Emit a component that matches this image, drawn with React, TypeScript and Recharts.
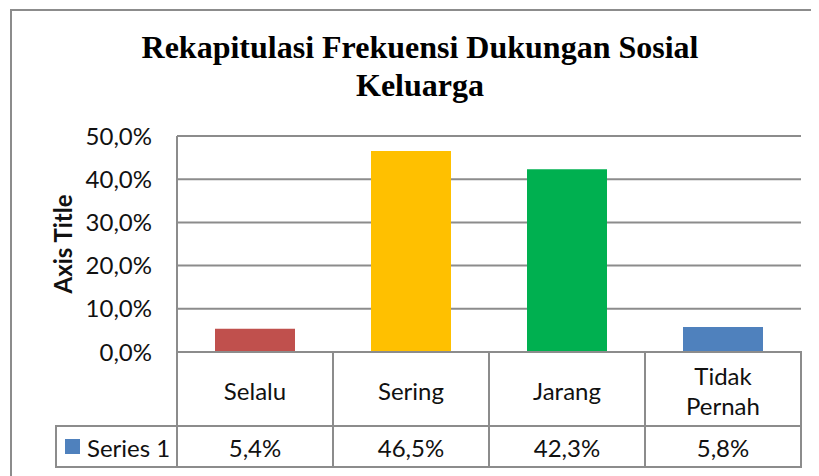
import React from 'react';
import { BarChart, Bar, XAxis, YAxis, CartesianGrid, Cell } from 'recharts';

const categories = ['Selalu', 'Sering', 'Jarang', 'Tidak Pernah'];
const values = [5.4, 46.5, 42.3, 5.8];
const barColors = ['#C0504D', '#FFC000', '#00B050', '#4F81BD'];
const yTicks = [0, 10, 20, 30, 40, 50];
const seriesName = 'Series 1';
const seriesColor = '#4F81BD';

const chartData = categories.map((name, i) => ({ name, value: values[i] }));

const LINE = '#8c8c8c';
const FONT = 'Lato, "Noto Sans", sans-serif';

const fmt = (v: number) => `${v.toFixed(1).replace('.', ',')}%`;

// x axis ticks draw the data table under the plot
const TableTick = (props: any) => {
    const { x, y, payload, index } = props;
    const half = payload && payload.offset ? payload.offset : 78;
    const left = x - half;
    const w = half * 2;
    const row1 = 74;
    const row2 = 41;
    const lines = String(payload.value).split(' ');
    return (
        <g>
            <rect x={left} y={y} width={w} height={row1} fill="none" stroke={LINE} strokeWidth={2} />
            <rect x={left} y={y + row1} width={w} height={row2} fill="none" stroke={LINE} strokeWidth={2} />
            {lines.length === 1 ? (
                <text x={x} y={y + 38} textAnchor="middle" dominantBaseline="central" fontSize={24} fontFamily={FONT} fill="#111">
                    {lines[0]}
                </text>
            ) : (
                lines.map((ln, i) => (
                    <text key={ln} x={x} y={y + 23 + i * 30} textAnchor="middle" dominantBaseline="central" fontSize={24} fontFamily={FONT} fill="#111">
                        {ln}
                    </text>
                ))
            )}
            <text x={x} y={y + row1 + 21} textAnchor="middle" dominantBaseline="central" fontSize={24} fontFamily={FONT} fill="#111">
                {fmt(values[index])}
            </text>
            {index === 0 && (
                <g>
                    <rect x={48} y={y + row1} width={left - 48} height={row2} fill="none" stroke={LINE} strokeWidth={2} />
                    <rect x={57} y={y + row1 + 13} width={15} height={15} fill={seriesColor} />
                    <text x={79} y={y + row1 + 21} dominantBaseline="central" fontSize={24} fontFamily={FONT} fill="#111">
                        {seriesName}
                    </text>
                </g>
            )}
        </g>
    );
};

const AxisTitle = (props: any) => {
    const vb = props.viewBox || { x: 0, y: 128, width: 169, height: 216 };
    const cx = vb.x + 54;
    const cy = vb.y + vb.height / 2;
    return (
        <text
            x={cx}
            y={cy}
            transform={`rotate(-90 ${cx} ${cy})`}
            textAnchor="middle"
            dominantBaseline="central"
            fontSize={24}
            fontWeight="bold"
            fontFamily={FONT}
            fill="#111"
        >
            Axis Title
        </text>
    );
};

export default function App() {
    return (
        <div style={{ position: 'relative', width: 811, height: 468, overflow: 'hidden', background: '#fff' }}>
            <div
                style={{
                    position: 'absolute',
                    left: 2,
                    top: 1,
                    width: 1000,
                    height: 1000,
                    borderLeft: `2px solid ${LINE}`,
                    borderTop: `2px solid ${LINE}`,
                }}
            />
            <div
                style={{
                    position: 'absolute',
                    left: 0,
                    top: 20,
                    width: 824,
                    textAlign: 'center',
                    fontFamily: '"Liberation Serif", "Times New Roman", serif',
                    fontWeight: 'bold',
                    fontSize: 32,
                    lineHeight: '38px',
                    color: '#000',
                }}
            >
                Rekapitulasi Frekuensi Dukungan Sosial
                <br />
                Keluarga
            </div>
            <div style={{ position: 'absolute', left: 0, top: 0 }}>
                <BarChart width={811} height={468} data={chartData} margin={{ top: 128, right: 18, left: 0, bottom: 0 }} barSize={80}>
                    <CartesianGrid horizontal vertical={false} stroke={LINE} strokeWidth={2} />
                    <XAxis
                        dataKey="name"
                        height={124}
                        axisLine={{ stroke: LINE, strokeWidth: 2 }}
                        tickLine={false}
                        tickSize={0}
                        tickMargin={0}
                        tick={<TableTick />}
                        interval={0}
                    />
                    <YAxis
                        width={169}
                        domain={[0, 50]}
                        ticks={yTicks}
                        tickFormatter={fmt}
                        axisLine={{ stroke: LINE, strokeWidth: 2 }}
                        tickLine={false}
                        tickSize={0}
                        tickMargin={25}
                        tick={{ fontSize: 24, fontFamily: FONT, fill: '#111' }}
                        label={{ content: <AxisTitle /> }}
                    />
                    <Bar dataKey="value" isAnimationActive={false}>
                        {chartData.map((d, i) => (
                            <Cell key={d.name} fill={barColors[i]} />
                        ))}
                    </Bar>
                </BarChart>
            </div>
        </div>
    );
}
